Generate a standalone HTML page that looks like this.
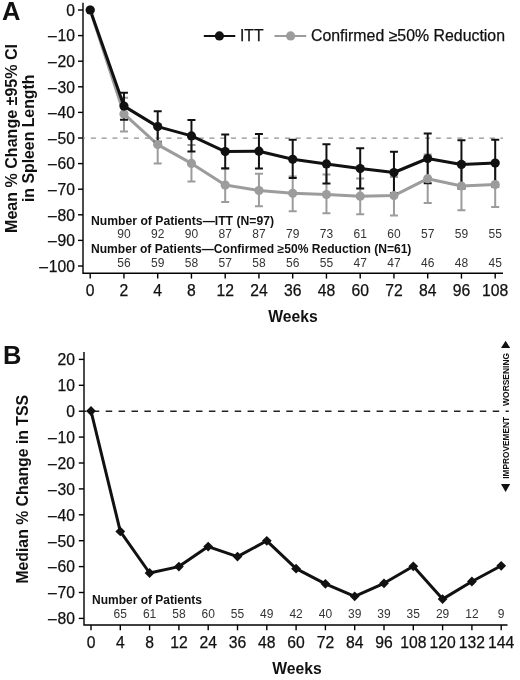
<!DOCTYPE html>
<html><head><meta charset="utf-8"><style>
html,body{margin:0;padding:0;background:#fff;}
svg{display:block;will-change:transform;}
text{font-family:"Liberation Sans", sans-serif;fill:#111;}
.t{font-size:15.7px;stroke:#111;stroke-width:0.25px;}
.n{font-size:12px;fill:#333;}
.nb{font-size:12px;font-weight:bold;}
.ab{font-size:15.7px;font-weight:bold;}
.pl{font-size:25.5px;font-weight:bold;}
.sm{font-size:8.6px;font-weight:bold;}
</style></head><body>
<svg width="520" height="680" viewBox="0 0 520 680">
<path d="M83.0 2.7V273.3H503.0" fill="none" stroke="#000" stroke-width="1.4"/>
<path d="M78 10.00H83.0" stroke="#000" stroke-width="1.4"/>
<text x="74.9" y="15.80" text-anchor="end" class="t">0</text>
<path d="M78 35.60H83.0" stroke="#000" stroke-width="1.4"/>
<text x="74.9" y="41.40" text-anchor="end" class="t">–<tspan dx="0.8">10</tspan></text>
<path d="M78 61.20H83.0" stroke="#000" stroke-width="1.4"/>
<text x="74.9" y="67.00" text-anchor="end" class="t">–<tspan dx="0.8">20</tspan></text>
<path d="M78 86.80H83.0" stroke="#000" stroke-width="1.4"/>
<text x="74.9" y="92.60" text-anchor="end" class="t">–<tspan dx="0.8">30</tspan></text>
<path d="M78 112.40H83.0" stroke="#000" stroke-width="1.4"/>
<text x="74.9" y="118.20" text-anchor="end" class="t">–<tspan dx="0.8">40</tspan></text>
<path d="M78 138.00H83.0" stroke="#000" stroke-width="1.4"/>
<text x="74.9" y="143.80" text-anchor="end" class="t">–<tspan dx="0.8">50</tspan></text>
<path d="M78 163.60H83.0" stroke="#000" stroke-width="1.4"/>
<text x="74.9" y="169.40" text-anchor="end" class="t">–<tspan dx="0.8">60</tspan></text>
<path d="M78 189.20H83.0" stroke="#000" stroke-width="1.4"/>
<text x="74.9" y="195.00" text-anchor="end" class="t">–<tspan dx="0.8">70</tspan></text>
<path d="M78 214.80H83.0" stroke="#000" stroke-width="1.4"/>
<text x="74.9" y="220.60" text-anchor="end" class="t">–<tspan dx="0.8">80</tspan></text>
<path d="M78 240.40H83.0" stroke="#000" stroke-width="1.4"/>
<text x="74.9" y="246.20" text-anchor="end" class="t">–<tspan dx="0.8">90</tspan></text>
<path d="M78 266.00H83.0" stroke="#000" stroke-width="1.4"/>
<text x="74.9" y="271.80" text-anchor="end" class="t">–<tspan dx="0.8">100</tspan></text>
<path d="M90.20 273.3V278.6" stroke="#000" stroke-width="1.4"/>
<text x="90.20" y="296" text-anchor="middle" class="t">0</text>
<path d="M123.95 273.3V278.6" stroke="#000" stroke-width="1.4"/>
<text x="123.95" y="296" text-anchor="middle" class="t">2</text>
<path d="M157.70 273.3V278.6" stroke="#000" stroke-width="1.4"/>
<text x="157.70" y="296" text-anchor="middle" class="t">4</text>
<path d="M191.45 273.3V278.6" stroke="#000" stroke-width="1.4"/>
<text x="191.45" y="296" text-anchor="middle" class="t">8</text>
<path d="M225.20 273.3V278.6" stroke="#000" stroke-width="1.4"/>
<text x="225.20" y="296" text-anchor="middle" class="t">12</text>
<path d="M258.95 273.3V278.6" stroke="#000" stroke-width="1.4"/>
<text x="258.95" y="296" text-anchor="middle" class="t">24</text>
<path d="M292.70 273.3V278.6" stroke="#000" stroke-width="1.4"/>
<text x="292.70" y="296" text-anchor="middle" class="t">36</text>
<path d="M326.45 273.3V278.6" stroke="#000" stroke-width="1.4"/>
<text x="326.45" y="296" text-anchor="middle" class="t">48</text>
<path d="M360.20 273.3V278.6" stroke="#000" stroke-width="1.4"/>
<text x="360.20" y="296" text-anchor="middle" class="t">60</text>
<path d="M393.95 273.3V278.6" stroke="#000" stroke-width="1.4"/>
<text x="393.95" y="296" text-anchor="middle" class="t">72</text>
<path d="M427.70 273.3V278.6" stroke="#000" stroke-width="1.4"/>
<text x="427.70" y="296" text-anchor="middle" class="t">84</text>
<path d="M461.45 273.3V278.6" stroke="#000" stroke-width="1.4"/>
<text x="461.45" y="296" text-anchor="middle" class="t">96</text>
<path d="M495.20 273.3V278.6" stroke="#000" stroke-width="1.4"/>
<text x="495.20" y="296" text-anchor="middle" class="t">108</text>
<path d="M83.0 138.1H503.0" stroke="#909090" stroke-width="1.2" stroke-dasharray="5 5.78" stroke-dashoffset="2.9"/>
<polyline points="90.20,10.00 123.95,113.90 157.70,144.60 191.45,163.40 225.20,185.10 258.95,190.50 292.70,193.30 326.45,194.50 360.20,196.20 393.95,195.60 427.70,178.70 461.45,186.00 495.20,184.60" fill="none" stroke="#9c9c9c" stroke-width="3" stroke-linejoin="round"/>
<path d="M123.95 97.8V131.4M119.95 97.8h8M119.95 131.4h8" stroke="#9c9c9c" stroke-width="2" fill="none"/>
<path d="M157.70 125.7V163.5M153.70 125.7h8M153.70 163.5h8" stroke="#9c9c9c" stroke-width="2" fill="none"/>
<path d="M191.45 144.9V181.5M187.45 144.9h8M187.45 181.5h8" stroke="#9c9c9c" stroke-width="2" fill="none"/>
<path d="M225.20 168V202.1M221.20 168h8M221.20 202.1h8" stroke="#9c9c9c" stroke-width="2" fill="none"/>
<path d="M258.95 173.8V206.2M254.95 173.8h8M254.95 206.2h8" stroke="#9c9c9c" stroke-width="2" fill="none"/>
<path d="M292.70 176.5V211.3M288.70 176.5h8M288.70 211.3h8" stroke="#9c9c9c" stroke-width="2" fill="none"/>
<path d="M326.45 174.5V213.3M322.45 174.5h8M322.45 213.3h8" stroke="#9c9c9c" stroke-width="2" fill="none"/>
<path d="M360.20 178.6V214.2M356.20 178.6h8M356.20 214.2h8" stroke="#9c9c9c" stroke-width="2" fill="none"/>
<path d="M393.95 177V215.4M389.95 177h8M389.95 215.4h8" stroke="#9c9c9c" stroke-width="2" fill="none"/>
<path d="M427.70 154.5V202.9M423.70 154.5h8M423.70 202.9h8" stroke="#9c9c9c" stroke-width="2" fill="none"/>
<path d="M461.45 162V210.2M457.45 162h8M457.45 210.2h8" stroke="#9c9c9c" stroke-width="2" fill="none"/>
<path d="M495.20 162V207M491.20 162h8M491.20 207h8" stroke="#9c9c9c" stroke-width="2" fill="none"/>
<polyline points="90.20,10.00 123.95,106.10 157.70,126.60 191.45,135.90 225.20,151.60 258.95,151.20 292.70,159.30 326.45,163.90 360.20,168.50 393.95,172.50 427.70,158.50 461.45,164.40 495.20,163.10" fill="none" stroke="#111" stroke-width="3" stroke-linejoin="round"/>
<path d="M123.95 92.8V119.7M119.95 92.8h8M119.95 119.7h8" stroke="#111" stroke-width="2" fill="none"/>
<path d="M157.70 111.2V141.8M153.70 111.2h8M153.70 141.8h8" stroke="#111" stroke-width="2" fill="none"/>
<path d="M191.45 120.1V151.4M187.45 120.1h8M187.45 151.4h8" stroke="#111" stroke-width="2" fill="none"/>
<path d="M225.20 134.6V168.5M221.20 134.6h8M221.20 168.5h8" stroke="#111" stroke-width="2" fill="none"/>
<path d="M258.95 134V168.5M254.95 134h8M254.95 168.5h8" stroke="#111" stroke-width="2" fill="none"/>
<path d="M292.70 139.7V178M288.70 139.7h8M288.70 178h8" stroke="#111" stroke-width="2" fill="none"/>
<path d="M326.45 144.2V183.6M322.45 144.2h8M322.45 183.6h8" stroke="#111" stroke-width="2" fill="none"/>
<path d="M360.20 148.3V188.5M356.20 148.3h8M356.20 188.5h8" stroke="#111" stroke-width="2" fill="none"/>
<path d="M393.95 151.8V193.2M389.95 151.8h8M389.95 193.2h8" stroke="#111" stroke-width="2" fill="none"/>
<path d="M427.70 133.5V183.3M423.70 133.5h8M423.70 183.3h8" stroke="#111" stroke-width="2" fill="none"/>
<path d="M461.45 140.2V188.6M457.45 140.2h8M457.45 188.6h8" stroke="#111" stroke-width="2" fill="none"/>
<path d="M495.20 139.7V186.5M491.20 139.7h8M491.20 186.5h8" stroke="#111" stroke-width="2" fill="none"/>
<circle cx="90.20" cy="10" r="4.6" fill="#9c9c9c"/>
<circle cx="123.95" cy="113.9" r="4.6" fill="#9c9c9c"/>
<circle cx="157.70" cy="144.6" r="4.6" fill="#9c9c9c"/>
<circle cx="191.45" cy="163.4" r="4.6" fill="#9c9c9c"/>
<circle cx="225.20" cy="185.1" r="4.6" fill="#9c9c9c"/>
<circle cx="258.95" cy="190.5" r="4.6" fill="#9c9c9c"/>
<circle cx="292.70" cy="193.3" r="4.6" fill="#9c9c9c"/>
<circle cx="326.45" cy="194.5" r="4.6" fill="#9c9c9c"/>
<circle cx="360.20" cy="196.2" r="4.6" fill="#9c9c9c"/>
<circle cx="393.95" cy="195.6" r="4.6" fill="#9c9c9c"/>
<circle cx="427.70" cy="178.7" r="4.6" fill="#9c9c9c"/>
<circle cx="461.45" cy="186" r="4.6" fill="#9c9c9c"/>
<circle cx="495.20" cy="184.6" r="4.6" fill="#9c9c9c"/>
<circle cx="90.20" cy="10" r="4.6" fill="#111"/>
<circle cx="123.95" cy="106.1" r="4.6" fill="#111"/>
<circle cx="157.70" cy="126.6" r="4.6" fill="#111"/>
<circle cx="191.45" cy="135.9" r="4.6" fill="#111"/>
<circle cx="225.20" cy="151.6" r="4.6" fill="#111"/>
<circle cx="258.95" cy="151.2" r="4.6" fill="#111"/>
<circle cx="292.70" cy="159.3" r="4.6" fill="#111"/>
<circle cx="326.45" cy="163.9" r="4.6" fill="#111"/>
<circle cx="360.20" cy="168.5" r="4.6" fill="#111"/>
<circle cx="393.95" cy="172.5" r="4.6" fill="#111"/>
<circle cx="427.70" cy="158.5" r="4.6" fill="#111"/>
<circle cx="461.45" cy="164.4" r="4.6" fill="#111"/>
<circle cx="495.20" cy="163.1" r="4.6" fill="#111"/>
<path d="M203.8 36H235.3" stroke="#111" stroke-width="2.2"/><circle cx="219.4" cy="35.9" r="4.6" fill="#111"/>
<text x="240" y="41" class="t">ITT</text>
<path d="M274.5 36H306.2" stroke="#9c9c9c" stroke-width="2.2"/><circle cx="290.6" cy="35.9" r="4.6" fill="#9c9c9c"/>
<text x="311" y="41" class="t" textLength="194" lengthAdjust="spacingAndGlyphs">Confirmed ≥50% Reduction</text>
<text x="91" y="225" class="nb" textLength="183" lengthAdjust="spacingAndGlyphs">Number of Patients—ITT (N=97)</text>
<text x="123.95" y="238.4" text-anchor="middle" class="n">90</text>
<text x="157.70" y="238.4" text-anchor="middle" class="n">92</text>
<text x="191.45" y="238.4" text-anchor="middle" class="n">90</text>
<text x="225.20" y="238.4" text-anchor="middle" class="n">87</text>
<text x="258.95" y="238.4" text-anchor="middle" class="n">87</text>
<text x="292.70" y="238.4" text-anchor="middle" class="n">79</text>
<text x="326.45" y="238.4" text-anchor="middle" class="n">73</text>
<text x="360.20" y="238.4" text-anchor="middle" class="n">61</text>
<text x="393.95" y="238.4" text-anchor="middle" class="n">60</text>
<text x="427.70" y="238.4" text-anchor="middle" class="n">57</text>
<text x="461.45" y="238.4" text-anchor="middle" class="n">59</text>
<text x="495.20" y="238.4" text-anchor="middle" class="n">55</text>
<text x="91" y="252.7" class="nb" textLength="320.4" lengthAdjust="spacingAndGlyphs">Number of Patients—Confirmed ≥50% Reduction (N=61)</text>
<text x="123.95" y="266.6" text-anchor="middle" class="n">56</text>
<text x="157.70" y="266.6" text-anchor="middle" class="n">59</text>
<text x="191.45" y="266.6" text-anchor="middle" class="n">58</text>
<text x="225.20" y="266.6" text-anchor="middle" class="n">57</text>
<text x="258.95" y="266.6" text-anchor="middle" class="n">58</text>
<text x="292.70" y="266.6" text-anchor="middle" class="n">56</text>
<text x="326.45" y="266.6" text-anchor="middle" class="n">55</text>
<text x="360.20" y="266.6" text-anchor="middle" class="n">47</text>
<text x="393.95" y="266.6" text-anchor="middle" class="n">47</text>
<text x="427.70" y="266.6" text-anchor="middle" class="n">46</text>
<text x="461.45" y="266.6" text-anchor="middle" class="n">48</text>
<text x="495.20" y="266.6" text-anchor="middle" class="n">45</text>
<text x="293" y="321.7" text-anchor="middle" class="ab">Weeks</text>
<text x="2" y="19.8" class="pl">A</text>
<text transform="translate(16.9 138.45) rotate(-90)" text-anchor="middle" class="ab" textLength="189" lengthAdjust="spacingAndGlyphs">Mean % Change ±95% CI</text>
<text transform="translate(33.9 138.3) rotate(-90)" text-anchor="middle" class="ab" textLength="127.5" lengthAdjust="spacingAndGlyphs">in Spleen Length</text>
<path d="M84.0 352V625.0H507.5" fill="none" stroke="#000" stroke-width="1.4"/>
<path d="M78.8 359.40H84.0" stroke="#000" stroke-width="1.4"/>
<text x="74.9" y="365.20" text-anchor="end" class="t">20</text>
<path d="M78.8 385.30H84.0" stroke="#000" stroke-width="1.4"/>
<text x="74.9" y="391.10" text-anchor="end" class="t">10</text>
<path d="M78.8 411.20H84.0" stroke="#000" stroke-width="1.4"/>
<text x="74.9" y="417.00" text-anchor="end" class="t">0</text>
<path d="M78.8 437.10H84.0" stroke="#000" stroke-width="1.4"/>
<text x="74.9" y="442.90" text-anchor="end" class="t">–<tspan dx="0.8">10</tspan></text>
<path d="M78.8 463.00H84.0" stroke="#000" stroke-width="1.4"/>
<text x="74.9" y="468.80" text-anchor="end" class="t">–<tspan dx="0.8">20</tspan></text>
<path d="M78.8 488.90H84.0" stroke="#000" stroke-width="1.4"/>
<text x="74.9" y="494.70" text-anchor="end" class="t">–<tspan dx="0.8">30</tspan></text>
<path d="M78.8 514.80H84.0" stroke="#000" stroke-width="1.4"/>
<text x="74.9" y="520.60" text-anchor="end" class="t">–<tspan dx="0.8">40</tspan></text>
<path d="M78.8 540.70H84.0" stroke="#000" stroke-width="1.4"/>
<text x="74.9" y="546.50" text-anchor="end" class="t">–<tspan dx="0.8">50</tspan></text>
<path d="M78.8 566.60H84.0" stroke="#000" stroke-width="1.4"/>
<text x="74.9" y="572.40" text-anchor="end" class="t">–<tspan dx="0.8">60</tspan></text>
<path d="M78.8 592.50H84.0" stroke="#000" stroke-width="1.4"/>
<text x="74.9" y="598.30" text-anchor="end" class="t">–<tspan dx="0.8">70</tspan></text>
<path d="M78.8 618.40H84.0" stroke="#000" stroke-width="1.4"/>
<text x="74.9" y="624.20" text-anchor="end" class="t">–<tspan dx="0.8">80</tspan></text>
<path d="M91.00 625.0V630.3" stroke="#000" stroke-width="1.4"/>
<text x="91.00" y="647.6" text-anchor="middle" class="t">0</text>
<path d="M120.30 625.0V630.3" stroke="#000" stroke-width="1.4"/>
<text x="120.30" y="647.6" text-anchor="middle" class="t">4</text>
<path d="M149.60 625.0V630.3" stroke="#000" stroke-width="1.4"/>
<text x="149.60" y="647.6" text-anchor="middle" class="t">8</text>
<path d="M178.90 625.0V630.3" stroke="#000" stroke-width="1.4"/>
<text x="178.90" y="647.6" text-anchor="middle" class="t">12</text>
<path d="M208.20 625.0V630.3" stroke="#000" stroke-width="1.4"/>
<text x="208.20" y="647.6" text-anchor="middle" class="t">24</text>
<path d="M237.50 625.0V630.3" stroke="#000" stroke-width="1.4"/>
<text x="237.50" y="647.6" text-anchor="middle" class="t">36</text>
<path d="M266.80 625.0V630.3" stroke="#000" stroke-width="1.4"/>
<text x="266.80" y="647.6" text-anchor="middle" class="t">48</text>
<path d="M296.10 625.0V630.3" stroke="#000" stroke-width="1.4"/>
<text x="296.10" y="647.6" text-anchor="middle" class="t">60</text>
<path d="M325.40 625.0V630.3" stroke="#000" stroke-width="1.4"/>
<text x="325.40" y="647.6" text-anchor="middle" class="t">72</text>
<path d="M354.70 625.0V630.3" stroke="#000" stroke-width="1.4"/>
<text x="354.70" y="647.6" text-anchor="middle" class="t">84</text>
<path d="M384.00 625.0V630.3" stroke="#000" stroke-width="1.4"/>
<text x="384.00" y="647.6" text-anchor="middle" class="t">96</text>
<path d="M413.30 625.0V630.3" stroke="#000" stroke-width="1.4"/>
<text x="413.30" y="647.6" text-anchor="middle" class="t">108</text>
<path d="M442.60 625.0V630.3" stroke="#000" stroke-width="1.4"/>
<text x="442.60" y="647.6" text-anchor="middle" class="t">120</text>
<path d="M471.90 625.0V630.3" stroke="#000" stroke-width="1.4"/>
<text x="471.90" y="647.6" text-anchor="middle" class="t">132</text>
<path d="M501.20 625.0V630.3" stroke="#000" stroke-width="1.4"/>
<text x="501.20" y="647.6" text-anchor="middle" class="t">144</text>
<path d="M84.0 411.20H508.8" stroke="#222" stroke-width="1.4" stroke-dasharray="6.5 6.4" stroke-dashoffset="4.1"/>
<polyline points="91.00,411.0 120.30,531.4 149.60,573.0 178.90,566.6 208.20,546.6 237.50,556.6 266.80,540.8 296.10,568.7 325.40,583.8 354.70,596.3 384.00,583.3 413.30,566.3 442.60,599.1 471.90,581.5 501.20,565.8" fill="none" stroke="#111" stroke-width="3" stroke-linejoin="round"/>
<path d="M91.00 406.10L95.90 411.0L91.00 415.90L86.10 411.0Z" fill="#111"/>
<path d="M120.30 526.50L125.20 531.4L120.30 536.30L115.40 531.4Z" fill="#111"/>
<path d="M149.60 568.10L154.50 573.0L149.60 577.90L144.70 573.0Z" fill="#111"/>
<path d="M178.90 561.70L183.80 566.6L178.90 571.50L174.00 566.6Z" fill="#111"/>
<path d="M208.20 541.70L213.10 546.6L208.20 551.50L203.30 546.6Z" fill="#111"/>
<path d="M237.50 551.70L242.40 556.6L237.50 561.50L232.60 556.6Z" fill="#111"/>
<path d="M266.80 535.90L271.70 540.8L266.80 545.70L261.90 540.8Z" fill="#111"/>
<path d="M296.10 563.80L301.00 568.7L296.10 573.60L291.20 568.7Z" fill="#111"/>
<path d="M325.40 578.90L330.30 583.8L325.40 588.70L320.50 583.8Z" fill="#111"/>
<path d="M354.70 591.40L359.60 596.3L354.70 601.20L349.80 596.3Z" fill="#111"/>
<path d="M384.00 578.40L388.90 583.3L384.00 588.20L379.10 583.3Z" fill="#111"/>
<path d="M413.30 561.40L418.20 566.3L413.30 571.20L408.40 566.3Z" fill="#111"/>
<path d="M442.60 594.20L447.50 599.1L442.60 604.00L437.70 599.1Z" fill="#111"/>
<path d="M471.90 576.60L476.80 581.5L471.90 586.40L467.00 581.5Z" fill="#111"/>
<path d="M501.20 560.90L506.10 565.8L501.20 570.70L496.30 565.8Z" fill="#111"/>
<text x="92" y="604.2" class="nb">Number of Patients</text>
<text x="120.30" y="618" text-anchor="middle" class="n">65</text>
<text x="149.60" y="618" text-anchor="middle" class="n">61</text>
<text x="178.90" y="618" text-anchor="middle" class="n">58</text>
<text x="208.20" y="618" text-anchor="middle" class="n">60</text>
<text x="237.50" y="618" text-anchor="middle" class="n">55</text>
<text x="266.80" y="618" text-anchor="middle" class="n">49</text>
<text x="296.10" y="618" text-anchor="middle" class="n">42</text>
<text x="325.40" y="618" text-anchor="middle" class="n">40</text>
<text x="354.70" y="618" text-anchor="middle" class="n">39</text>
<text x="384.00" y="618" text-anchor="middle" class="n">39</text>
<text x="413.30" y="618" text-anchor="middle" class="n">35</text>
<text x="442.60" y="618" text-anchor="middle" class="n">29</text>
<text x="471.90" y="618" text-anchor="middle" class="n">12</text>
<text x="501.20" y="618" text-anchor="middle" class="n">9</text>
<text x="297" y="674.2" text-anchor="middle" class="ab">Weeks</text>
<text x="3" y="363.5" class="pl">B</text>
<text transform="translate(28.2 489.3) rotate(-90)" text-anchor="middle" class="ab" textLength="188.6" lengthAdjust="spacingAndGlyphs">Median % Change in TSS</text>
<text transform="translate(508.9 379.4) rotate(-90)" text-anchor="middle" class="sm" textLength="53" lengthAdjust="spacingAndGlyphs">WORSENING</text>
<text transform="translate(509.0 447.8) rotate(-90)" text-anchor="middle" class="sm" textLength="61.9" lengthAdjust="spacingAndGlyphs">IMPROVEMENT</text>
<path d="M505.6 340.8L510.2 348.1H501Z" fill="#111"/>
<path d="M505.6 491.9L510.2 483.9H501Z" fill="#111"/>
</svg>
</body></html>
